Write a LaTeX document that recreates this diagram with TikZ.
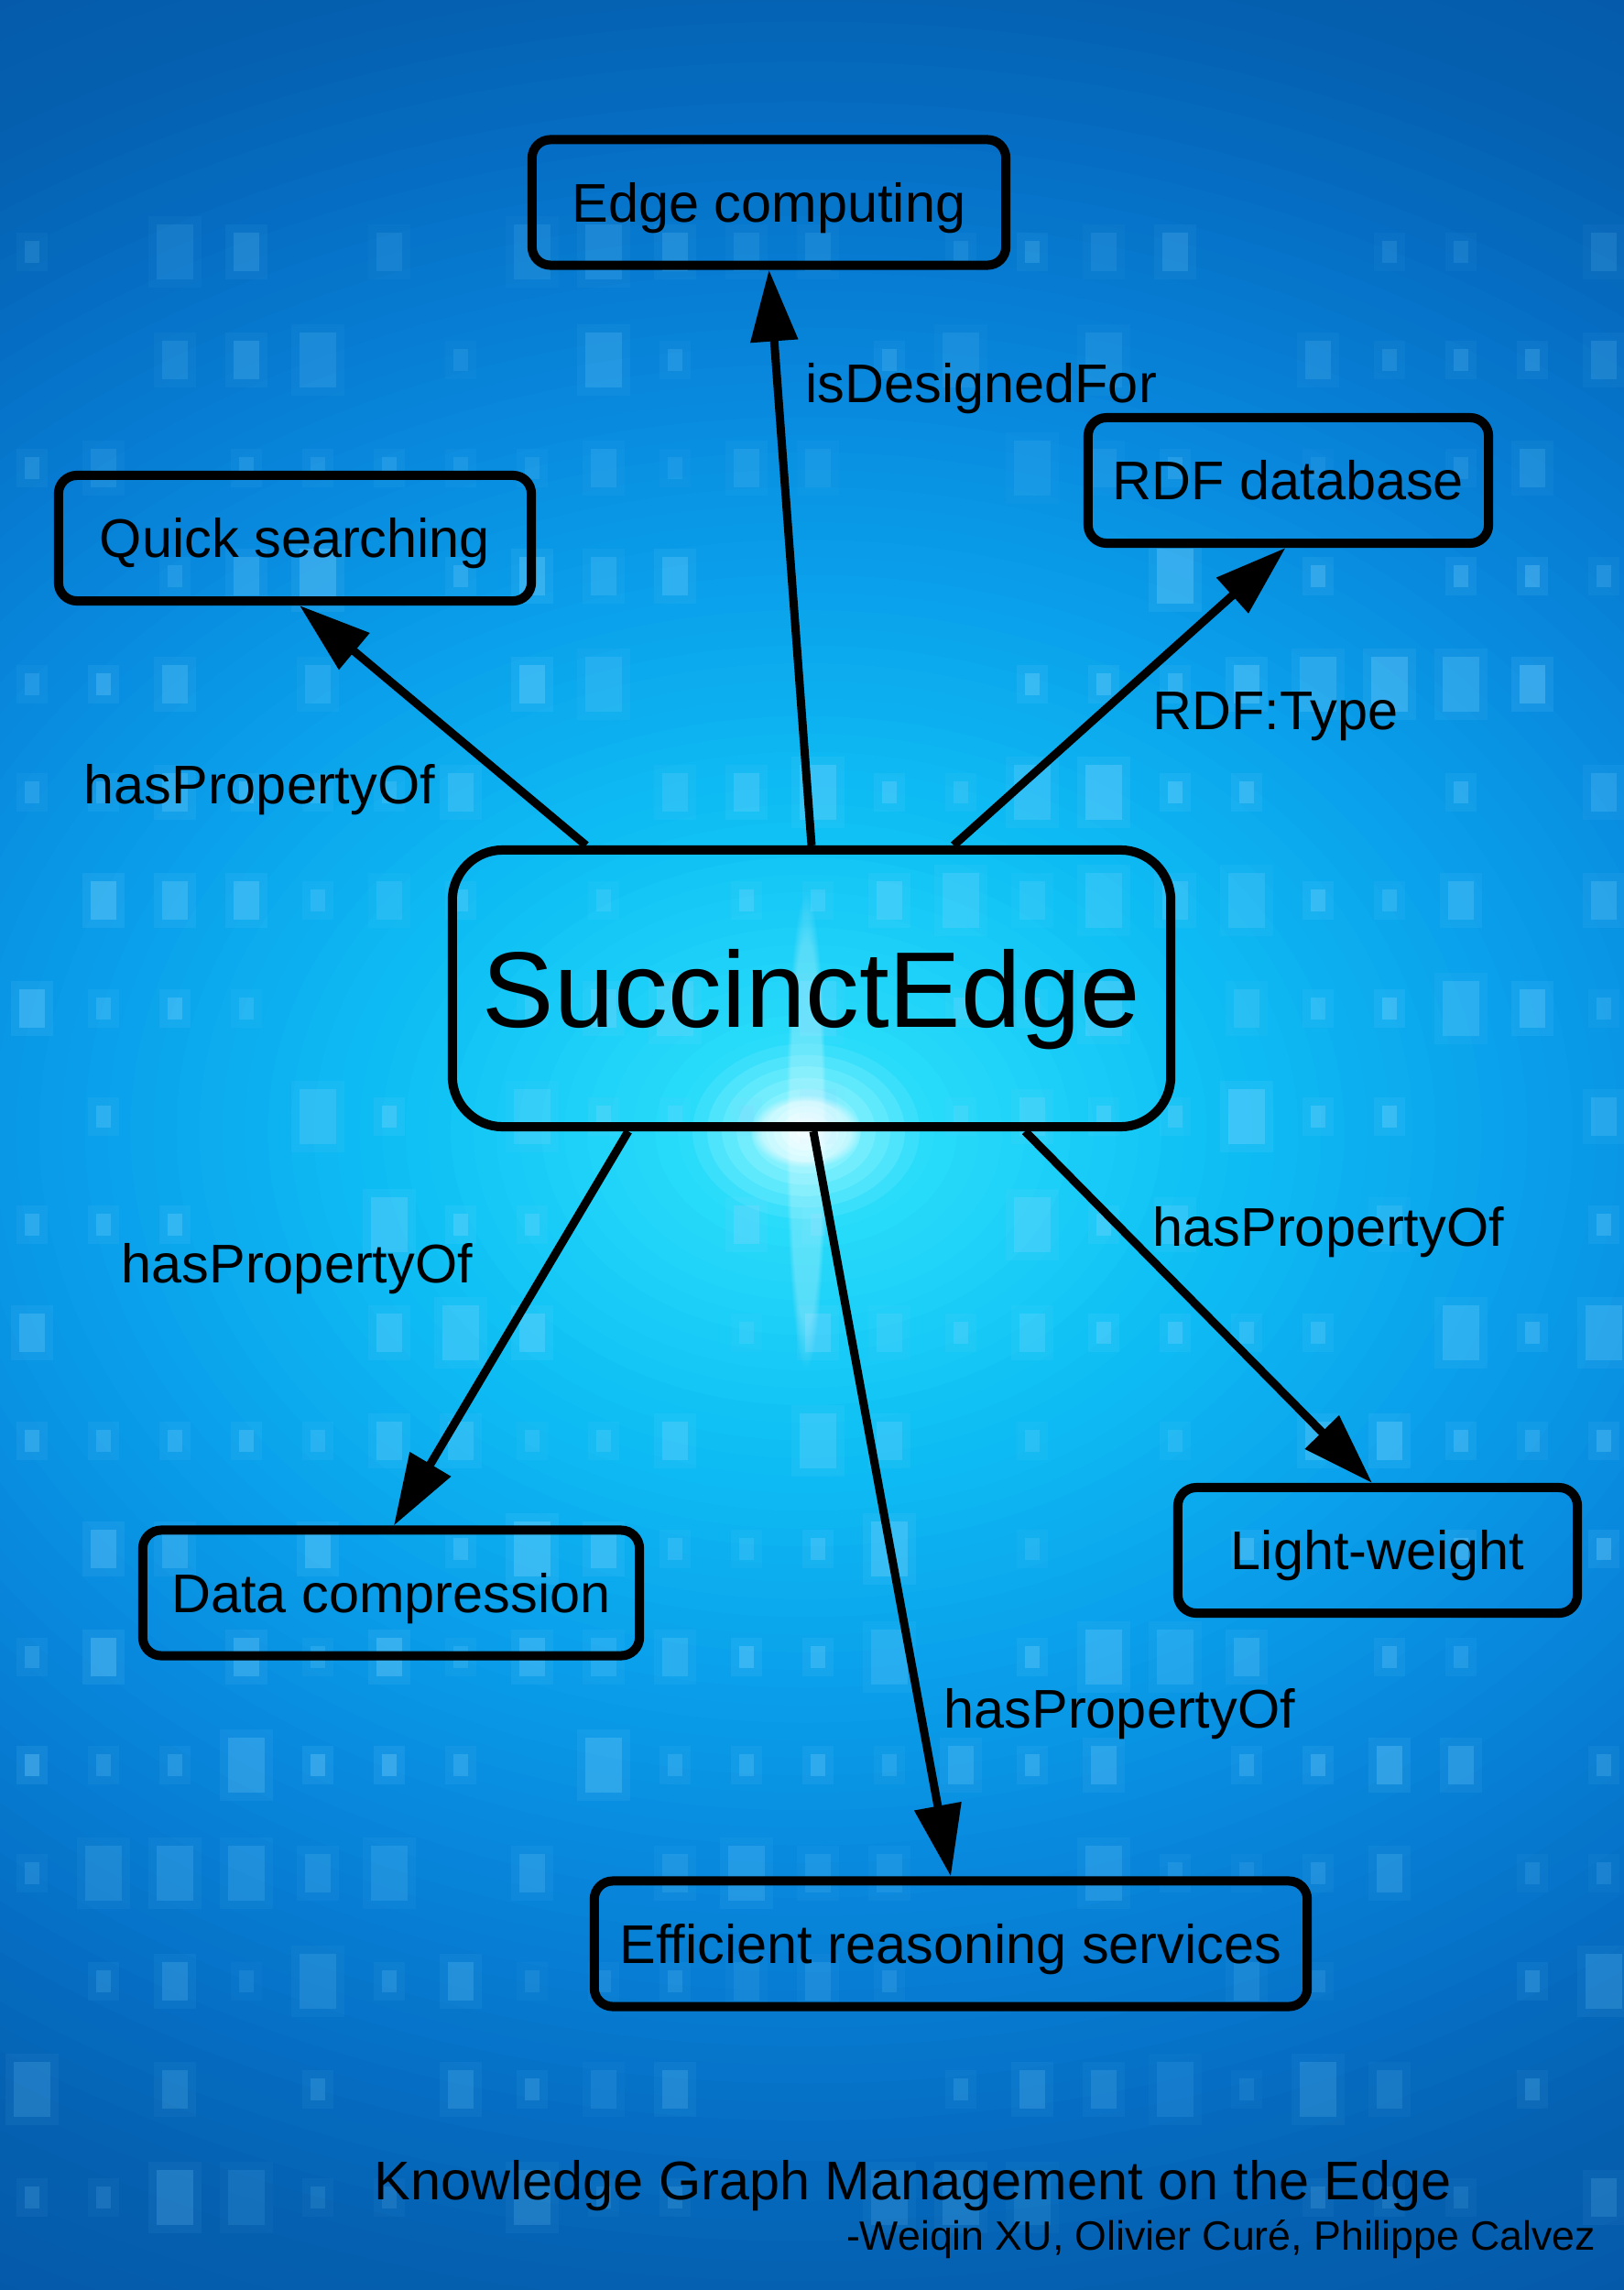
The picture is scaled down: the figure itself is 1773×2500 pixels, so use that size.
\documentclass[tikz,border=0pt]{standalone}
\usepackage{fontspec}
\setmainfont{Liberation Sans}
\usetikzlibrary{arrows.meta,fadings}
\definecolor{gA}{RGB}{4,78,156}
\definecolor{gB}{RGB}{5,88,168}
\definecolor{gC}{RGB}{5,97,178}
\definecolor{gD}{RGB}{5,112,198}
\definecolor{gE}{RGB}{8,135,220}
\definecolor{gF}{RGB}{10,160,235}
\definecolor{gG}{RGB}{15,193,245}
\definecolor{gH}{RGB}{40,220,250}
\definecolor{gI}{RGB}{150,245,255}
\definecolor{gJ}{RGB}{240,255,255}
\definecolor{sqcol}{RGB}{130,215,255}
\newcommand{\glowseg}[5]{%
  \foreach \k in {0,...,#5}{%
    \pgfmathsetmacro{\ff}{#1-(#1-#2)*\k/#5}%
    \pgfmathsetmacro{\pp}{100*\k/#5}%
    \fill[#4!\pp!#3] (880,1235) ellipse ({\ff*1750} and {\ff*1350});
  }}
\tikzset{
  box/.style={draw=black, line width=0.1cm, rounded corners=0.2cm, inner sep=0pt,
    minimum height=1.37cm, text height=12.1pt, text depth=0pt,
    font=\fontsize{16.9pt}{20pt}\selectfont, text=black},
  bigbox/.style={draw=black, line width=0.1cm, rounded corners=0.55cm, inner sep=0pt,
    minimum width=7.84cm, minimum height=3.02cm, text height=23.9pt, text depth=0pt,
    font=\fontsize{33.4pt}{40pt}\selectfont, text=black},
  lbl/.style={inner sep=0pt, anchor=base west, font=\fontsize{16.9pt}{20pt}\selectfont, text=black},
  arr/.style={line width=0.09cm, -{Triangle[length=0.78cm,width=0.5cm]}},
  sq/.style={fill=sqcol}
}
\begin{document}
\begin{tikzpicture}[x=0.01cm,y=-0.01cm]
\useasboundingbox (0,0) rectangle (1773,2500);
\begin{scope}
  \clip (0,0) rectangle (1773,2500);
  \fill[gA] (0,0) rectangle (1773,2500);
  \glowseg{1.6}{1.1}{gA}{gB}{10}
  \glowseg{1.1}{0.93}{gB}{gC}{8}
  \glowseg{0.93}{0.8}{gC}{gD}{8}
  \glowseg{0.8}{0.62}{gD}{gE}{12}
  \glowseg{0.62}{0.45}{gE}{gF}{12}
  \glowseg{0.45}{0.25}{gF}{gG}{14}
  \glowseg{0.25}{0.08}{gG}{gH}{12}
  \glowseg{0.08}{0.025}{gH}{gI}{6}
  \glowseg{0.025}{0.006}{gI}{gJ}{4}
  \pgfmathsetseed{4242}
  \foreach \i in {0,...,22}{
    \foreach \j in {0,...,18}{
      \pgfmathsetmacro{\ra}{rnd}
      \pgfmathsetmacro{\rb}{rnd}
      \pgfmathsetmacro{\cx}{35+78*\i}
      \pgfmathsetmacro{\cy}{275+118*\j}
      \pgfmathsetmacro{\w}{\ra<0.45 ? 16 : (\ra<0.8 ? 28 : 40)}
      \pgfmathsetmacro{\h}{\w*1.5}
      \pgfmathsetmacro{\fade}{\cy<600 ? 0.6 : (\cy>2000 ? 0.6 : 1)}
      \pgfmathsetmacro{\op}{\rb<0.3 ? 0 : (0.10+0.22*\rb)*\fade}
      \pgfmathsetmacro{\opb}{\op*0.35}
      \fill[sq, opacity=\opb] (\cx-\w/2-9,\cy-\h/2-9) rectangle (\cx+\w/2+9,\cy+\h/2+9);
      \fill[sq, opacity=\op] (\cx-\w/2,\cy-\h/2) rectangle (\cx+\w/2,\cy+\h/2);
    }
  }
  \fill[white, opacity=0.25, path fading=circle with fuzzy edge 20 percent] (880,1235) ellipse (22 and 260);
  \fill[white, opacity=0.5, path fading=circle with fuzzy edge 20 percent] (880,1235) ellipse (60 and 40);
\end{scope}

\node[bigbox] (se) at (886,1079) {SuccinctEdge};
\node[box, minimum width=5.17cm] (ec) at (839.5,221) {Edge computing};
\node[box, minimum width=5.16cm] (qs) at (322,587.5) {Quick searching};
\node[box, minimum width=4.37cm] (rdf) at (1406.5,524.5) {RDF database};
\node[box, minimum width=5.42cm] (dc) at (427,1739) {Data compression};
\node[box, minimum width=4.36cm] (lw) at (1504,1692.5) {Light-weight};
\node[box, minimum width=7.78cm] (er) at (1038,2122) {Efficient reasoning services};

\draw[arr] (se.north) -- (ec.south);
\draw[arr] ([xshift=-2.46cm]se.north) -- ([xshift=0.05cm]qs.south);
\draw[arr] ([xshift=1.55cm]se.north) -- ([xshift=-0.03cm]rdf.south);
\draw[arr] ([xshift=-2.0cm]se.south) -- ([xshift=0.03cm]dc.north);
\draw[arr] ([xshift=0.02cm]se.south) -- (er.north);
\draw[arr] ([xshift=2.33cm]se.south) -- ([xshift=-0.06cm]lw.north);

\node[lbl] (l1) at (879,439) {isDesignedFor};
\node[lbl] (l2) at (91,877) {hasPropertyOf};
\node[lbl] (l3) at (1258,796) {RDF:Type};
\node[lbl] (l4) at (132,1400) {hasPropertyOf};
\node[lbl] (l5) at (1258,1360) {hasPropertyOf};
\node[lbl] (l6) at (1030,1886) {hasPropertyOf};

\node[lbl] (title) at (408,2401) {Knowledge Graph Management on the Edge};
\node[inner sep=0pt, anchor=base east, font=\fontsize{12.7pt}{15pt}\selectfont, text=black] (auth) at (1743,2456) {-Weiqin XU, Olivier Curé, Philippe Calvez};
\end{tikzpicture}
\end{document}
